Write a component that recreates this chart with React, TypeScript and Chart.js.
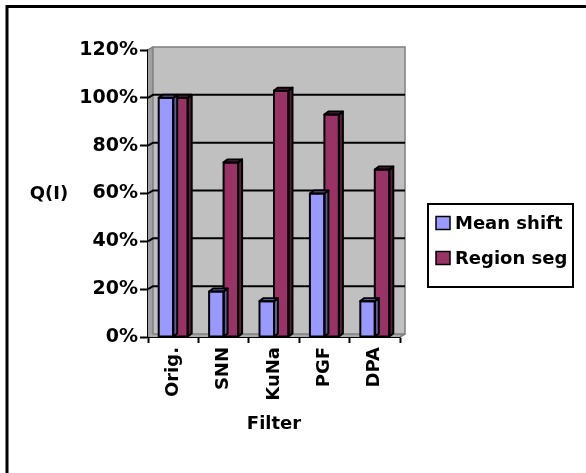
import React, { useEffect, useRef } from 'react';
import { Chart, registerables } from 'chart.js';

Chart.register(...registerables);

// ---- data ----
const categories = ['Orig.', 'SNN', 'KuNa', 'PGF', 'DPA'];
const meanShift = [100, 19, 15, 60, 15];
const regionSeg = [100, 73, 103, 93, 70];
const seriesNames = ['Mean shift', 'Region seg'];
const yMin = 0;
const yMax = 120;
const yStep = 20;
const xTitle = 'Filter';
const yTitle = 'Q(I)';

// ---- styles ----
const FONT = '"DejaVu Sans", "Liberation Sans", sans-serif';
const FRONT = ['#9999FF', '#993366'];
const TOPS = ['#7777CC', '#7A2952'];
const SIDES = ['#5C5C99', '#5A1E3C'];
const W = 586;
const H = 473;
const DX = 5; // wall depth
const DY = 3;
const BDX = 4; // bar depth
const BDY = 3;

const threeD = {
  id: 'threeD',
  beforeDatasetsDraw(chart: any) {
    const { ctx, chartArea } = chart;
    const { left, right, top, bottom } = chartArea;
    ctx.save();
    // back wall
    ctx.fillStyle = '#C0C0C0';
    ctx.fillRect(left + DX, top - DY, right - left, bottom - top);
    // left wall
    ctx.fillStyle = '#A0A0A0';
    ctx.beginPath();
    ctx.moveTo(left, top);
    ctx.lineTo(left + DX, top - DY);
    ctx.lineTo(left + DX, bottom - DY);
    ctx.lineTo(left, bottom);
    ctx.closePath();
    ctx.fill();
    // floor
    ctx.fillStyle = '#A8A8A8';
    ctx.beginPath();
    ctx.moveTo(left, bottom);
    ctx.lineTo(left + DX, bottom - DY);
    ctx.lineTo(right + DX, bottom - DY);
    ctx.lineTo(right, bottom);
    ctx.closePath();
    ctx.fill();
    // wall outlines
    ctx.strokeStyle = '#808080';
    ctx.lineWidth = 1.5;
    ctx.strokeRect(left + DX, top - DY, right - left, bottom - top);
    ctx.beginPath();
    ctx.moveTo(left, top);
    ctx.lineTo(left + DX, top - DY);
    ctx.moveTo(right, bottom);
    ctx.lineTo(right + DX, bottom - DY);
    ctx.stroke();
    // gridlines on walls
    const ys = chart.scales.y;
    ctx.strokeStyle = '#000';
    ctx.lineWidth = 2;
    ys.ticks.forEach((t: any) => {
      if (t.value <= yMin || t.value >= yMax) return;
      const py = ys.getPixelForValue(t.value);
      ctx.beginPath();
      ctx.moveTo(left, py);
      ctx.lineTo(left + DX, py - DY);
      ctx.lineTo(right + DX, py - DY);
      ctx.stroke();
    });
    ctx.restore();
  },
  afterDatasetDraw(chart: any, args: any) {
    const { ctx } = chart;
    const i = args.index;
    ctx.save();
    ctx.strokeStyle = '#000';
    ctx.lineWidth = 2;
    ctx.lineJoin = 'round';
    args.meta.data.forEach((el: any) => {
      const { x, y, base, width } = el.getProps(['x', 'y', 'base', 'width'], true);
      const l = x - width / 2;
      const r = x + width / 2;
      ctx.fillStyle = SIDES[i];
      ctx.beginPath();
      ctx.moveTo(r, y);
      ctx.lineTo(r + BDX, y - BDY);
      ctx.lineTo(r + BDX, base - BDY);
      ctx.lineTo(r, base);
      ctx.closePath();
      ctx.fill();
      ctx.stroke();
      ctx.fillStyle = TOPS[i];
      ctx.beginPath();
      ctx.moveTo(l, y);
      ctx.lineTo(l + BDX, y - BDY);
      ctx.lineTo(r + BDX, y - BDY);
      ctx.lineTo(r, y);
      ctx.closePath();
      ctx.fill();
      ctx.stroke();
      ctx.strokeRect(l, y, width, base - y);
    });
    ctx.restore();
  },
  afterDraw(chart: any) {
    const { ctx, chartArea } = chart;
    ctx.save();
    ctx.fillStyle = '#000';
    ctx.font = `bold 18px ${FONT}`;
    ctx.textBaseline = 'middle';
    ctx.textAlign = 'center';
    // axis titles
    ctx.fillText(yTitle, 49, 194);
    ctx.fillText(xTitle, (chartArea.left + chartArea.right) / 2, 424);
    // legend
    ctx.strokeStyle = '#000';
    ctx.lineWidth = 2;
    ctx.strokeRect(428, 204, 145, 83);
    const rows = [223, 258];
    chart.data.datasets.forEach((ds: any, k: number) => {
      const cy = rows[k];
      ctx.fillStyle = ds.backgroundColor;
      ctx.fillRect(436, cy - 6.5, 14, 13);
      ctx.lineWidth = 1.5;
      ctx.strokeRect(436, cy - 6.5, 14, 13);
      ctx.fillStyle = '#000';
      ctx.textAlign = 'left';
      ctx.fillText(ds.label, 455, cy + 1);
    });
    // outer border
    ctx.lineWidth = 3;
    ctx.strokeStyle = '#000';
    ctx.strokeRect(7, 6.5, 1000, 1000);
    ctx.restore();
  },
};

export default function App() {
  const ref = useRef<HTMLCanvasElement | null>(null);
  useEffect(() => {
    if (!ref.current) return;
    const tickFont = { family: FONT, size: 18, weight: 'bold' as const };
    const yTickFont = { family: FONT, size: 19, weight: 'bold' as const };
    const chart = new Chart(ref.current, {
      type: 'bar',
      data: {
        labels: categories,
        datasets: [
          { label: seriesNames[0], data: meanShift, backgroundColor: FRONT[0], borderWidth: 0 },
          { label: seriesNames[1], data: regionSeg, backgroundColor: FRONT[1], borderWidth: 0 },
        ],
      },
      options: {
        responsive: false,
        animation: false,
        devicePixelRatio: 1,
        layout: { padding: { top: 50, right: 186, left: 0, bottom: 0 } },
        datasets: { bar: { categoryPercentage: 0.575, barPercentage: 1 } },
        plugins: { legend: { display: false }, tooltip: { enabled: false } },
        scales: {
          x: {
            ticks: { minRotation: 90, maxRotation: 90, autoSkip: false, padding: 4, color: '#000', font: tickFont },
            grid: { drawOnChartArea: false, offset: true, tickLength: 6, tickColor: '#000', tickWidth: 2 },
            border: { display: true, color: '#000', width: 2 },
            afterFit: (s: any) => { s.height = H - 337; },
          },
          y: {
            min: yMin,
            max: yMax,
            ticks: { stepSize: yStep, padding: 2, color: '#000', font: yTickFont, callback: (v: any) => `${v}%` },
            grid: { drawOnChartArea: false, tickLength: 8, tickColor: '#000', tickWidth: 2 },
            border: { display: true, color: '#000', width: 2 },
            afterFit: (s: any) => { s.width = 148; },
          },
        },
      },
      plugins: [threeD],
    });
    return () => chart.destroy();
  }, []);
  return (
    <canvas
      ref={ref}
      width={W}
      height={H}
      style={{ position: 'fixed', left: 0, top: 0, display: 'block', background: '#fff' }}
    />
  );
}
